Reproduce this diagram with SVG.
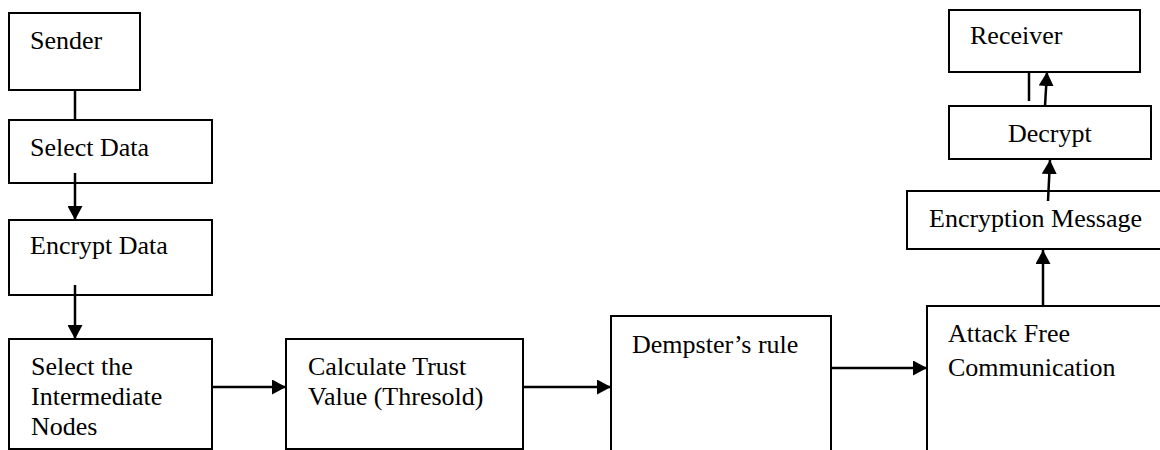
<svg xmlns="http://www.w3.org/2000/svg" width="1160" height="450" viewBox="0 0 1160 450">
<style>
.box{fill:#fff;stroke:#000;stroke-width:2}
.t{font-family:"Liberation Serif","Times New Roman",serif;font-size:26px;fill:#000}
.c{stroke:#000;stroke-width:2.5;fill:none}
</style>
<defs>
<marker id="ah" viewBox="0 0 14 15" refX="14" refY="7.5" markerWidth="14" markerHeight="15" markerUnits="userSpaceOnUse" orient="auto">
<path d="M0,0 L14,7.5 L0,15 z" fill="#000"/>
</marker>
</defs>
<rect width="1160" height="450" fill="#fff"/>
<g id="sender"><rect class="box" x="9" y="13" width="131" height="77"/><text class="t" x="30" y="49">Sender</text></g>
<g id="select-data"><rect class="box" x="9" y="120" width="203" height="63"/><text class="t" x="30" y="156">Select Data</text></g>
<g id="encrypt-data"><rect class="box" x="9" y="220" width="203" height="75"/><text class="t" x="30" y="254">Encrypt Data</text></g>
<g id="select-intermediate"><rect class="box" x="9" y="339" width="203" height="110"/><text class="t" x="31" y="375">Select the</text><text class="t" x="31" y="405">Intermediate</text><text class="t" x="31" y="435">Nodes</text></g>
<g id="calculate-trust"><rect class="box" x="286" y="339" width="237" height="110"/><text class="t" x="308" y="375">Calculate Trust</text><text class="t" x="308" y="405">Value (Thresold)</text></g>
<g id="dempster"><rect class="box" x="611" y="316" width="220" height="150"/><text class="t" x="632" y="353">Dempster’s rule</text></g>
<g id="attack-free"><rect class="box" x="927" y="306" width="260" height="160"/><text class="t" x="948" y="342">Attack Free</text><text class="t" x="948" y="376">Communication</text></g>
<g id="encryption-message"><rect class="box" x="907" y="191" width="280" height="58"/><text class="t" x="929" y="227">Encryption Message</text></g>
<g id="decrypt"><rect class="box" x="949" y="106" width="202" height="53"/><text class="t" x="1008" y="142">Decrypt</text></g>
<g id="receiver"><rect class="box" x="949" y="10" width="191" height="62"/><text class="t" x="970" y="44">Receiver</text></g>
<g id="connectors">
<line class="c" x1="75" y1="90" x2="75" y2="120"/>
<line class="c" x1="75" y1="173" x2="75" y2="220" marker-end="url(#ah)"/>
<line class="c" x1="75" y1="285" x2="75" y2="339" marker-end="url(#ah)"/>
<line class="c" x1="212" y1="387" x2="286" y2="387" marker-end="url(#ah)"/>
<line class="c" x1="523" y1="387" x2="611" y2="387" marker-end="url(#ah)"/>
<line class="c" x1="831" y1="368" x2="927" y2="368" marker-end="url(#ah)"/>
<line class="c" x1="1043" y1="306" x2="1043" y2="250" marker-end="url(#ah)"/>
<line class="c" x1="1048" y1="201" x2="1050" y2="160" marker-end="url(#ah)"/>
<line class="c" x1="1045" y1="106" x2="1047" y2="72" marker-end="url(#ah)"/>
<line class="c" x1="1029" y1="72" x2="1029" y2="101"/>
</g>
</svg>
